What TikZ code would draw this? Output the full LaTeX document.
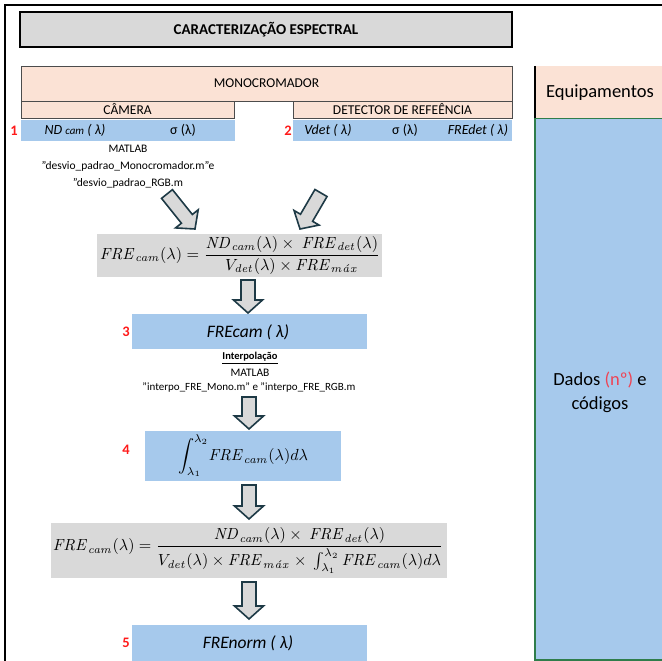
\documentclass[tikz,border=0pt]{standalone}
\usepackage[no-math]{fontspec}
\usepackage{amsmath}
\usetikzlibrary{calc}
\setmainfont{Carlito}
\definecolor{peach}{HTML}{FBE2D5}
\definecolor{lblue}{HTML}{A6C9EC}
\definecolor{lgray}{HTML}{D9D9D9}
\definecolor{dgreen}{HTML}{2F7D4B}
\definecolor{arrowline}{HTML}{1E3A46}
\definecolor{nred}{HTML}{FF1A1A}
\definecolor{sred}{HTML}{EE4455}
\newcommand\barrow[2]{%
 \coordinate (bh) at ($(#2)!13pt!(#1)$);
 \draw[barrowstyle] ($(#1)!7pt!90:(#2)$) -- ($(bh)!7pt!90:(#2)$) -- ($(bh)!14.5pt!90:(#2)$) -- (#2) -- ($(bh)!14.5pt!-90:(#2)$) -- ($(bh)!7pt!-90:(#2)$) -- ($(#1)!7pt!-90:(#2)$) -- cycle;}
\begin{document}
\begin{tikzpicture}[x=1pt,y=-1pt,
  cell/.style={draw=black!70, line width=0.8pt, fill=peach, inner sep=0pt, outer sep=0pt, font=\fontsize{13.5}{15}\selectfont},
  bluecell/.style={fill=lblue, inner sep=0pt, outer sep=0pt},
  graybox/.style={fill=lgray, inner sep=0pt, outer sep=0pt},
  num/.style={text=nred, font=\bfseries\fontsize{14.5}{16}\selectfont, inner sep=0pt},
  small/.style={font=\fontsize{11.5}{13}\selectfont, inner sep=0pt},
  rowtxt/.style={font=\fontsize{14}{16}\selectfont, inner sep=0pt},
  big/.style={font=\fontsize{17.5}{20}\selectfont\itshape, inner sep=0pt},
  side/.style={font=\fontsize{18.5}{22}\selectfont, inner sep=0pt, align=center},
  barrowstyle/.style={draw=arrowline, fill=lgray, line width=1.6pt, line join=miter}]
\useasboundingbox (0,0) rectangle (662,661);
% outer frame
\draw[line width=1.5pt] (5,661) -- (5,5) -- (662,5);
% title
\node[draw=black, line width=1.5pt, fill=lgray, minimum width=492pt, minimum height=35pt, inner sep=0pt,
  font=\bfseries\fontsize{15}{17}\selectfont] (title) at (266,29.5) {CARACTERIZAÇÃO ESPECTRAL};
% monochromator table
\node[cell, minimum width=491pt, minimum height=35pt] (mono) at (266.5,83.5) {MONOCROMADOR};
\node[cell, minimum width=213pt, minimum height=17pt] (cam) at (127.5,109.5) {CÂMERA};
\node[cell, minimum width=219pt, minimum height=17pt] (det) at (402.5,109.5) {DETECTOR DE REFEÊNCIA};
\node[bluecell, minimum width=214pt, minimum height=21pt] (bcam) at (128,130.5) {};
\node[bluecell, minimum width=219pt, minimum height=21pt] (bdet) at (402.5,130.5) {};
\node[rowtxt] (ndcam) at (75,130.5) {\textit{ND {\fontsize{11}{12}\selectfont cam} ( λ)}};
\node[rowtxt] (sig1) at (183,130.5) {σ (λ)};
\node[rowtxt] (vdet) at (328,130.5) {\textit{Vdet ( λ)}};
\node[rowtxt] (sig2) at (405,130.5) {σ (λ)};
\node[rowtxt] (fredet) at (478,130.5) {\textit{FREdet ( λ)}};
\node[num] (n1) at (14,130.5) {1};
\node[num] (n2) at (288,130.5) {2};
% matlab text
\node[small] (m1) at (128,149) {MATLAB};
\node[small] (m2) at (128,166) {"desvio\_padrao\_Monocromador.m"e};
\node[small] (m3) at (128,183) {"desvio\_padrao\_RGB.m};
% formula 1
\node[graybox, minimum width=285pt, minimum height=43pt] (f1) at (239.5,255.5) {};
\node[inner sep=0pt] (f1t) at (240,255.5) {\resizebox{280pt}{!}{$\mathit{FRE}_{\mathit{cam}}(\lambda)=\dfrac{\mathit{ND}_{\mathit{cam}}(\lambda)\times\ \mathit{FRE}_{\mathit{det}}(\lambda)}{V_{\mathit{det}}(\lambda)\times\mathit{FRE}_{\mathit{m\acute{a}x}}}$}};
% FREcam
\node[bluecell, minimum width=235pt, minimum height=35pt] (frecam) at (249.5,331.5) {};
\node[big] (frecamt) at (248,332) {FREcam ( λ)};
\node[num] (n3) at (126,332) {3};
\node[small, font=\bfseries\fontsize{10.5}{12}\selectfont] (interp) at (250,358) {\underline{Interpolação}};
\node[small] (m4) at (250,373) {MATLAB};
\node[small, font=\fontsize{11}{13}\selectfont] (m5) at (249,388) {"interpo\_FRE\_Mono.m" e "interpo\_FRE\_RGB.m};
% integral
\node[bluecell, minimum width=196pt, minimum height=50pt] (intb) at (243,456) {};
\node[inner sep=0pt] (intt) at (243,456) {\resizebox{130pt}{!}{$\displaystyle\int_{\lambda_1}^{\lambda_2}\!\mathit{FRE}_{\mathit{cam}}(\lambda)d\lambda$}};
\node[num] (n4) at (126,450) {4};
% formula 2
\node[graybox, minimum width=396pt, minimum height=55pt] (f2) at (249,550.5) {};
\node[inner sep=0pt] (f2t) at (248,550.5) {\resizebox{390pt}{!}{$\mathit{FRE}_{\mathit{cam}}(\lambda)=\dfrac{\mathit{ND}_{\mathit{cam}}(\lambda)\times\ \mathit{FRE}_{\mathit{det}}(\lambda)}{V_{\mathit{det}}(\lambda)\times\mathit{FRE}_{\mathit{m\acute{a}x}}\times\ \int_{\lambda_1}^{\lambda_2}\mathit{FRE}_{\mathit{cam}}(\lambda)d\lambda}$}};
% FREnorm
\node[bluecell, minimum width=235pt, minimum height=40pt] (frenorm) at (249.5,645) {};
\node[big] (frenormt) at (248,643) {FREnorm ( λ)};
\node[num] (n5) at (126,643) {5};
% right column
\node[fill=lblue, minimum width=127pt, minimum height=542pt, inner sep=0pt, outer sep=0pt] (dados) at (598.5,389) {};
\draw[dgreen, line width=1.5pt] (dados.north east) -- (dados.north west) -- (dados.south west) -- (dados.south east);
\node[fill=peach, minimum width=127pt, minimum height=52pt, inner sep=0pt, outer sep=0pt] (equip) at (598.5,92) {};
\draw[line width=2pt] (equip.north west) -- (equip.south west);
\node[side] (equipt) at (600,93) {Equipamentos};
\node[side] (dadost) at (600,392) {Dados \textcolor{sred}{(nº)} e\\[2pt] códigos};
% block arrows
\coordinate (a1s) at (167,194);
\coordinate (a1e) at (195,229);
\coordinate (a2s) at (321,193);
\coordinate (a2e) at (300,229);
\coordinate (a3s) at (248,280);
\coordinate (a3e) at (248,313);
\coordinate (a4s) at (249,397);
\coordinate (a4e) at (249,429);
\coordinate (a5s) at (249,485);
\coordinate (a5e) at (249,519);
\coordinate (a6s) at (249,582);
\coordinate (a6e) at (249,619);
\barrow{a1s}{a1e}
\barrow{a2s}{a2e}
\barrow{a3s}{a3e}
\barrow{a4s}{a4e}
\barrow{a5s}{a5e}
\barrow{a6s}{a6e}
\end{tikzpicture}
\end{document}
